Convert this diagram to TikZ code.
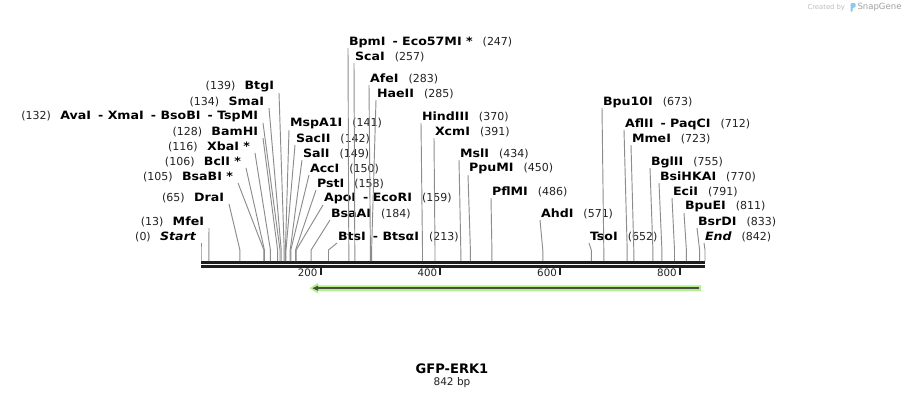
\documentclass[tikz,border=0pt]{standalone}
\usepackage{fontspec}
\setmainfont{DejaVu Sans}
\newfontfamily\namefont[FakeStretch=1.1]{DejaVu Sans}
\usetikzlibrary{calc}
\definecolor{numc}{HTML}{222222}
\definecolor{cutc}{HTML}{8C8C8C}
\definecolor{rulerc}{HTML}{1E1E1E}
\definecolor{featgreen}{HTML}{B5EF8C}
\definecolor{featdark}{HTML}{4A4F45}
\definecolor{logoc}{HTML}{BDBDBD}
\definecolor{logoblue}{HTML}{8CC8EE}
\newcommand{\nm}[1]{{\namefont\bfseries\fontsize{8.6}{10}\selectfont #1}}
\newcommand{\nb}[1]{{\fontsize{8.25}{10}\selectfont\color{numc}#1}}
\newcommand{\dsh}{\hspace{2pt} - }
% right label: id, cut x, label left x, label y, name, number
\newcommand{\enzR}[6]{%
  \node[lbl,anchor=west] (#1) at (#3,#4) {\nm{#5}\hspace{7.5pt}\nb{#6}};
  \coordinate (#1c) at (#2,261);
  \draw[cutline] (#1c) -- ++(0,-11) -- ($(#1.west)+(-1,6)$);
}
% left label: id, cut x, label right x, label y, name, number
\newcommand{\enzL}[6]{%
  \node[lbl,anchor=east] (#1) at (#3,#4) {\nb{#6}\hspace{7pt}\nm{#5}};
  \coordinate (#1c) at (#2,261);
  \draw[cutline] (#1c) -- ++(0,-11) -- ($(#1.east)+(5,6)$);
}
\tikzset{
  lbl/.style={inner sep=0pt,outer sep=0pt},
  cutline/.style={draw=cutc,line width=0.7pt},
  rulerline/.style={draw=rulerc,line width=1.9pt},
  tickmark/.style={draw=rulerc,line width=1.5pt},
  ticklbl/.style={inner sep=0pt,anchor=east,font=\fontsize{7.7}{9}\selectfont,text=numc},
}
\begin{document}
\begin{tikzpicture}[x=0.75pt,y=-0.75pt]
\useasboundingbox (0,0) rectangle (906,400);
\fill[white] (0,0) rectangle (906,400);

% logo
\node[lbl,anchor=east,text=logoc,font=\fontsize{5.1}{6}\selectfont] (created) at (845,7.5) {Created by};
\fill[logoblue,rounded corners=0.8pt] (850.5,12) -- (850.5,3) -- (855.5,3) -- (855.5,7.5) -- (852.5,7.5) -- (852.5,12) -- cycle;
\node[lbl,anchor=west,text=logoc!85!black,font=\fontsize{6.4}{7}\selectfont] (snapgene) at (857.5,7.5) {SnapGene};

% ruler
\coordinate (r0) at (201,262.25);
\coordinate (r1) at (705,262.25);
\draw[rulerline] (r0) -- (r1);
\draw[rulerline] ($(r0)+(0,4)$) -- ($(r1)+(0,4)$);
\foreach \v/\xx in {200/320.7,400/440.4,600/560.1,800/679.9}{
  \coordinate (t\v) at (\xx,267.5);
  \draw[tickmark] (t\v) -- ++(0,7.5);
  \node[ticklbl] (tl\v) at ($(t\v)+(-3,5)$) {\v};
}

% feature arrow
\fill[featgreen] (701,285.3) -- (318,285.3) -- (318,282.8) -- (309.5,288.2) -- (318,293.6) -- (318,291.1) -- (701,291.1) -- cycle;
\draw[featdark,line width=1.6pt] (699,288.2) -- (316,288.2);
\fill[featdark] (312.5,288.2) -- (318,285.6) -- (318,290.8) -- cycle;

% left-side labels
\enzL{start}{201.0}{196}{237}{\itshape Start}{(0)}
\enzL{mfeI}{208.8}{204}{222}{MfeI}{(13)}
\enzL{draI}{239.9}{224}{198}{DraI}{(65)}
\enzL{bsaBI}{263.9}{233}{177}{BsaBI *}{(105)}
\enzL{bclI}{264.4}{241}{162}{BclI *}{(106)}
\enzL{xbaI}{270.4}{250}{147}{XbaI *}{(116)}
\enzL{bamHI}{277.6}{258}{132}{BamHI}{(128)}
\enzL{avaI}{280.0}{258}{117}{AvaI\dsh XmaI\dsh BsoBI\dsh TspMI}{(132)}
\enzL{smaI}{281.2}{264}{102}{SmaI}{(134)}
\enzL{btgI}{284.2}{274}{87}{BtgI}{(139)}

% right-side labels
\enzR{mspA1I}{285.4}{290}{124}{MspA1I}{(141)}
\enzR{sacII}{286.0}{296}{139}{SacII}{(142)}
\enzR{salI}{290.2}{303}{154}{SalI}{(149)}
\enzR{accI}{290.8}{310}{169}{AccI}{(150)}
\enzR{pstI}{295.6}{317}{184}{PstI}{(158)}
\enzR{apoI}{296.2}{324}{199}{ApoI\dsh EcoRI}{(159)}
\enzR{bsaAI}{311.1}{331}{214}{BsaAI}{(184)}
\enzR{btsI}{328.5}{338}{237}{BtsI\dsh BtsαI}{(213)}
\enzR{bpmI}{348.8}{349}{42}{BpmI\dsh Eco57MI *}{(247)}
\enzR{scaI}{354.8}{355}{57}{ScaI}{(257)}
\enzR{afeI}{370.4}{370}{79}{AfeI}{(283)}
\enzR{haeII}{371.6}{377}{94}{HaeII}{(285)}
\enzR{hindIII}{422.5}{422}{117}{HindIII}{(370)}
\enzR{xcmI}{435.0}{435}{132}{XcmI}{(391)}
\enzR{mslI}{460.8}{460}{154}{MslI}{(434)}
\enzR{ppuMI}{470.4}{469}{169}{PpuMI}{(450)}
\enzR{pflMI}{491.9}{492}{192}{PflMI}{(486)}
\enzR{ahdI}{542.8}{541}{214}{AhdI}{(571)}
\enzR{tsoI}{591.3}{590}{237}{TsoI}{(652)}
\enzR{bpu10I}{603.8}{603}{102}{Bpu10I}{(673)}
\enzR{aflII}{627.2}{625}{124}{AflII\dsh PaqCI}{(712)}
\enzR{mmeI}{633.8}{632}{139}{MmeI}{(723)}
\enzR{bglII}{652.9}{651}{162}{BglII}{(755)}
\enzR{bsiHKAI}{661.9}{660}{177}{BsiHKAI}{(770)}
\enzR{eciI}{674.5}{673}{192}{EciI}{(791)}
\enzR{bpuEI}{686.4}{685}{207}{BpuEI}{(811)}
\enzR{bsrDI}{699.6}{698}{222}{BsrDI}{(833)}
\enzR{endp}{705.0}{705}{237}{\itshape End}{(842)}

% title
\node[lbl,font=\bfseries\fontsize{9.8}{11}\selectfont] (title) at (452,368.5) {GFP-ERK1};
\node[lbl,font=\fontsize{7.9}{9}\selectfont,text=numc] (size) at (452,383) {842 bp};
\end{tikzpicture}
\end{document}
